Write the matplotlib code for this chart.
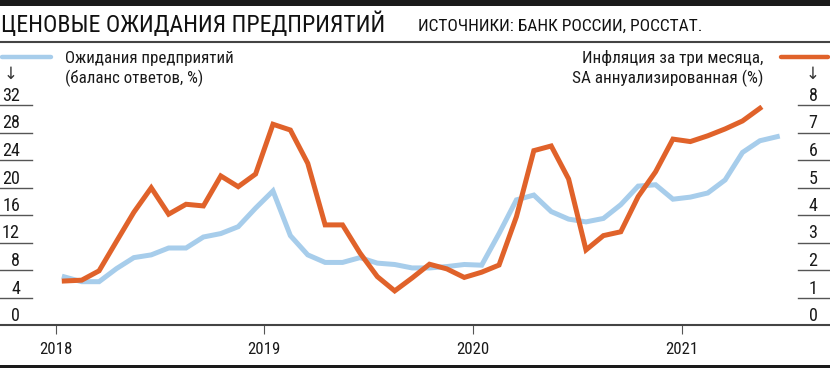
import matplotlib
matplotlib.use("Agg")
import matplotlib.pyplot as plt
from matplotlib.lines import Line2D
from matplotlib.patches import Rectangle

FONT = ['Roboto Condensed', 'DejaVu Sans']
plt.rcParams['font.family'] = FONT

# ---- data (monthly, starting January 2018) ----
expectations = [7.0, 6.3, 6.3, 8.2, 9.8, 10.2, 11.2, 11.2, 12.8, 13.3, 14.3, 17.0,
                19.5, 13.0, 10.2, 9.1, 9.1, 9.8, 9.0, 8.8, 8.3, 8.3, 8.5, 8.8,
                8.7, 13.3, 18.2, 18.9, 16.5, 15.4, 15.0, 15.5, 17.5, 20.2, 20.4, 18.3,
                18.6, 19.2, 21.1, 25.1, 26.8, 27.4]
inflation = [1.60, 1.63, 1.97, 3.04, 4.10, 4.99, 4.03, 4.39, 4.33, 5.42, 5.03, 5.49,
             7.30, 7.09, 5.88, 3.64, 3.64, 2.62, 1.76, 1.24, 1.71, 2.21, 2.04, 1.73,
             1.92, 2.18, 3.94, 6.34, 6.51, 5.31, 2.73, 3.25, 3.39, 4.67, 5.57, 6.76,
             6.67, 6.88, 7.13, 7.42, 7.88]
years = ["2018", "2019", "2020", "2021"]
left_ticks = [0, 4, 8, 12, 16, 20, 24, 28, 32]
right_ticks = [0, 1, 2, 3, 4, 5, 6, 7, 8]
title = "ЦЕНОВЫЕ ОЖИДАНИЯ ПРЕДПРИЯТИЙ"
source = "ИСТОЧНИКИ: БАНК РОССИИ, РОССТАТ."
label_exp = ["Ожидания предприятий", "(баланс ответов, %)"]
label_inf = ["Инфляция за три месяца,", "SA аннуализированная (%)"]

BLUE = "#A7CDEB"
ORANGE = "#E0622A"
GREY = "#555555"
TXT = "#1a1a1a"

W, H = 830, 368
fig = plt.figure(figsize=(W / 100, H / 100), dpi=100)
renderer = fig.canvas.get_renderer()


def fx(px):
    return px / W


def fy(py):
    return 1 - py / H


def fit_size(s, target_px, max_size):
    t = fig.text(0, 0, s, fontsize=20)
    w = t.get_window_extent(renderer=renderer).width
    t.remove()
    return min(max_size, 20 * target_px / w)


ax_bottom_px, ax_top_px = 325, 105
ax = fig.add_axes([0, fy(ax_bottom_px), 1, (ax_bottom_px - ax_top_px) / H])
ax2 = ax.twinx()

px_per_month = 17.39
x0_px = 55.6
xmin = (0 - x0_px) / px_per_month
xmax = (W - x0_px) / px_per_month

x_exp = [i + 0.5 for i in range(len(expectations))]
x_inf = [i + 0.5 for i in range(len(inflation))]

ax.plot(x_exp, expectations, color=BLUE, lw=3.6, solid_joinstyle='miter', zorder=2)
ax2.plot(x_inf, inflation, color=ORANGE, lw=3.6, solid_joinstyle='miter', zorder=3)

ax.set_xlim(xmin, xmax)
ax.set_ylim(0, 32)
ax2.set_ylim(0, 8)
ax.set_zorder(ax2.get_zorder() - 1)
ax.patch.set_visible(False)
ax2.patch.set_visible(False)

for a in (ax, ax2):
    for s in ('top', 'left', 'right'):
        a.spines[s].set_visible(False)
    a.set_yticks([])
ax2.spines['bottom'].set_visible(False)
ax.spines['bottom'].set_color("#444444")
ax.spines['bottom'].set_linewidth(1.5)

fs_year = fit_size("2018", 33, 14)
ax.set_xticks([12 * i for i in range(len(years))])
ax.set_xticklabels(years, fontsize=fs_year, color=TXT)
ax.tick_params(axis='x', length=6.5, width=0.8, color=GREY, pad=5.5)

fs_tick = fit_size("32", 18, 14)
for v in left_ticks:
    if v > 0:
        ax.plot([0, 32 / W], [v, v], transform=ax.get_yaxis_transform(),
                color=GREY, lw=1.0, clip_on=False, zorder=1)
    ax.annotate(str(v), xy=(20 / W, v), xycoords=('axes fraction', 'data'),
                xytext=(0, 4), textcoords='offset pixels', ha='right', va='baseline',
                fontsize=fs_tick, color=TXT)
for v in right_ticks:
    if v > 0:
        ax2.plot([798 / W, 1], [v, v], transform=ax2.get_yaxis_transform(),
                 color=GREY, lw=1.0, clip_on=False, zorder=1)
    ax2.annotate(str(v), xy=(813 / W, v), xycoords=('axes fraction', 'data'),
                 xytext=(0, 4), textcoords='offset pixels', ha='center', va='baseline',
                 fontsize=fs_tick, color=TXT)

# decorative bars and rules
fig.add_artist(Rectangle((0, fy(6)), 1, 6 / H, transform=fig.transFigure,
                         color="#1a1a1a", lw=0))
fig.add_artist(Rectangle((0, fy(368)), 1, 3 / H, transform=fig.transFigure,
                         color="#1a1a1a", lw=0))
fig.add_artist(Line2D([0, 1], [fy(41.7), fy(41.7)], transform=fig.transFigure,
                      color="#444444", lw=1.5))

fig.text(fx(1), fy(31.7), title, fontsize=fit_size(title, 384, 26),
         va='baseline', ha='left', color="#111111")
fig.text(fx(418), fy(31), source, fontsize=fit_size(source, 285, 18),
         va='baseline', ha='left', color="#111111")

# legend
fs_leg_l = fit_size(label_exp[0], 168, 15)
fs_leg_r = fit_size(label_inf[1], 190, 15)
fig.add_artist(Line2D([fx(2), fx(51)], [fy(56.7), fy(56.7)], transform=fig.transFigure,
                      color=BLUE, lw=3.2, solid_capstyle='round'))
fig.add_artist(Line2D([fx(781), fx(828)], [fy(56.7), fy(56.7)], transform=fig.transFigure,
                      color=ORANGE, lw=3.2, solid_capstyle='round'))
fig.text(fx(65), fy(63), label_exp[0], fontsize=fs_leg_l, va='baseline', ha='left', color=TXT)
fig.text(fx(65), fy(83), label_exp[1], fontsize=fs_leg_l, va='baseline', ha='left', color=TXT)
fig.text(fx(763), fy(63), label_inf[0], fontsize=fs_leg_r, va='baseline', ha='right', color=TXT)
fig.text(fx(763), fy(83), label_inf[1], fontsize=fs_leg_r, va='baseline', ha='right', color=TXT)
fig.text(fx(11), fy(79), "↓", fontsize=12, va='baseline', ha='center', color="#333333",
         family=['DejaVu Sans'])
fig.text(fx(813), fy(79), "↓", fontsize=12, va='baseline', ha='center', color="#333333",
         family=['DejaVu Sans'])

fig.savefig("out.png", dpi=100)
